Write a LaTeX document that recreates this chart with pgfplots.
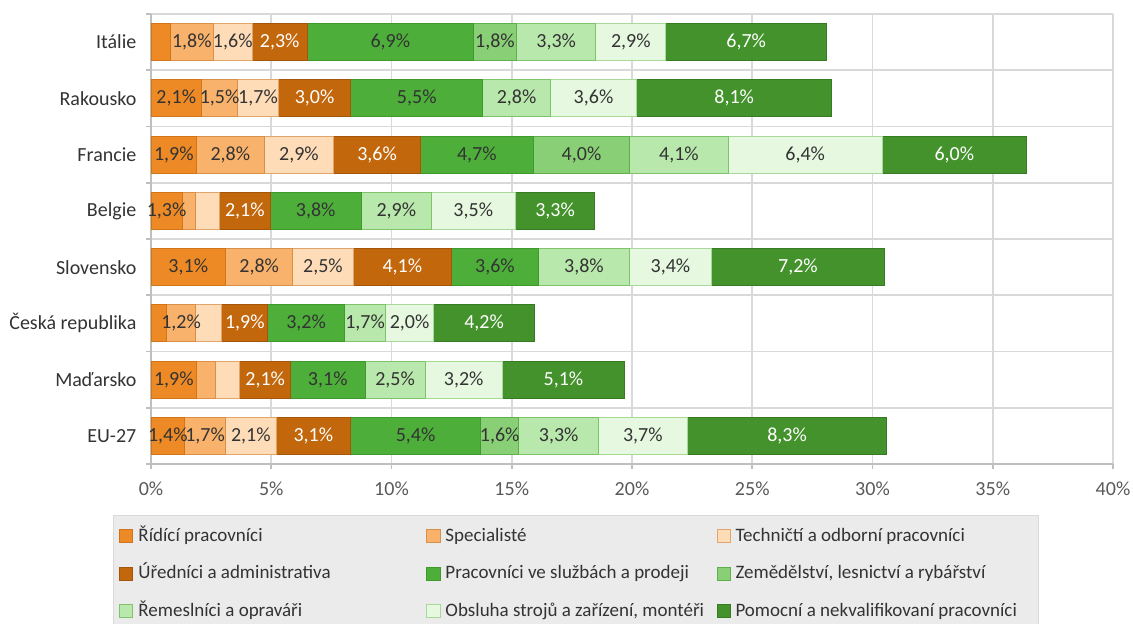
\documentclass[border=0pt]{standalone}
\usepackage{pgfplots}
\pgfplotsset{compat=1.18}
\usepackage{pgfplotstable}
\usepackage{fontspec}
\setmainfont{Carlito}

\definecolor{c1}{HTML}{EE8A26}\definecolor{b1}{HTML}{D07518}
\definecolor{c2}{HTML}{F9B26B}\definecolor{b2}{HTML}{D98F4A}
\definecolor{c3}{HTML}{FEDCB8}\definecolor{b3}{HTML}{E0A56C}
\definecolor{c4}{HTML}{C2670C}\definecolor{b4}{HTML}{A35508}
\definecolor{c5}{HTML}{4DAF3A}\definecolor{b5}{HTML}{3F9A2D}
\definecolor{c6}{HTML}{88CF76}\definecolor{b6}{HTML}{5FB04D}
\definecolor{c7}{HTML}{B9E8AC}\definecolor{b7}{HTML}{7FC46C}
\definecolor{c8}{HTML}{E6F8E0}\definecolor{b8}{HTML}{A8D89A}
\definecolor{c9}{HTML}{43922C}\definecolor{b9}{HTML}{367A22}
\definecolor{gridc}{HTML}{D9D9D9}
\definecolor{axisc}{HTML}{BFBFBF}
\definecolor{txt}{HTML}{333333}
\definecolor{ticktxt}{HTML}{595959}
\definecolor{legfill}{HTML}{EBEBEB}

% podíly (%) podle skupin povolání; idx 7 = Itálie nahoře
\pgfplotstableread{
idx s1   s2   s3   s4  s5  s6  s7  s8  s9
7   0.8  1.8  1.6  2.3 6.9 1.8 3.3 2.9 6.7
6   2.1  1.5  1.7  3.0 5.5 0   2.8 3.6 8.1
5   1.9  2.8  2.9  3.6 4.7 4.0 4.1 6.4 6.0
4   1.3  0.55 1.0  2.1 3.8 0   2.9 3.5 3.3
3   3.1  2.8  2.5  4.1 3.6 0   3.8 3.4 7.2
2   0.65 1.2  1.1  1.9 3.2 0   1.7 2.0 4.2
1   1.9  0.8  1.0  2.1 3.1 0   2.5 3.2 5.1
0   1.4  1.7  2.1  3.1 5.4 1.6 3.3 3.7 8.3
}\data

\pgfplotsset{
  seg/.style n args={4}{
    fill=#2, draw=#3, line width=0.5pt,
    visualization depends on={\thisrow{#1} \as \rawx},
    every node near coord/.append style={text=#4},
    legend image code/.code={\draw[##1, line width=0.5pt] (0pt,-3.25pt) rectangle (6.5pt,3.25pt);},
  },
}

\begin{document}
\begin{tikzpicture}[font=\fontsize{10}{12}\selectfont]
\useasboundingbox (0,0) rectangle (566.5pt,311.5pt);
\begin{axis}[
  at={(75.5pt,79.5pt)}, anchor=south west,
  width=481pt, height=225pt, scale only axis,
  xbar stacked, bar width=0.66,
  xmin=0, xmax=40, ymin=-0.5, ymax=7.5,
  xtick={0,5,...,40},
  xticklabel={\pgfmathprintnumber{\tick}\%},
  /pgf/number format/assume math mode=true,
  xticklabel style={text=ticktxt, yshift=-3pt},
  ytick={-0.5,0.5,...,7.5}, yticklabels={},
  extra y ticks={0,...,7},
  extra y tick labels={EU-27,Maďarsko,Česká republika,Slovensko,Belgie,Francie,Rakousko,Itálie},
  extra y tick style={grid=none, major tick length=0pt,
    yticklabel style={text=txt, xshift=-3.8pt}},
  grid=major, grid style={color=gridc, line width=0.8pt},
  axis lines*=left, axis line style={color=axisc, line width=0.8pt},
  tick align=outside, major tick length=2.5pt,
  tick style={color=axisc, line width=0.8pt},
  nodes near coords={\ifdim\rawx pt<1.15pt\relax\else\pgfmathprintnumber[fixed,fixed zerofill,precision=1,use comma]{\rawx}\%\fi},
  every node near coord/.append style={anchor=center},
  legend columns=3, legend cell align=left,
  legend style={at={(axis description cs:-0.0395,-0.1133)}, anchor=north west,
    draw=gridc, fill=legfill, line width=0.5pt, text=txt,
    font=\fontsize{9.5}{11}\selectfont,
    inner xsep=3pt, inner ysep=6pt, row sep=9.75pt,
    nodes={inner xsep=2.5pt, inner ysep=0pt, text height=7pt, text depth=2pt}},
]
\addplot[seg={s1}{c1}{b1}{txt}] table[x=s1, y=idx] {\data};
\addlegendentry{\makebox[141.5pt][l]{Řídící pracovníci}}
\addplot[seg={s2}{c2}{b2}{txt}] table[x=s2, y=idx] {\data};
\addlegendentry{\makebox[133pt][l]{Specialisté}}
\addplot[seg={s3}{c3}{b3}{txt}] table[x=s3, y=idx] {\data};
\addlegendentry{\makebox[146pt][l]{Techničtí a odborní pracovníci}}
\addplot[seg={s4}{c4}{b4}{white}] table[x=s4, y=idx] {\data};
\addlegendentry{\makebox[141.5pt][l]{Úředníci a administrativa}}
\addplot[seg={s5}{c5}{b5}{txt}] table[x=s5, y=idx] {\data};
\addlegendentry{\makebox[133pt][l]{Pracovníci ve službách a prodeji}}
\addplot[seg={s6}{c6}{b6}{txt}] table[x=s6, y=idx] {\data};
\addlegendentry{\makebox[146pt][l]{Zemědělství, lesnictví a rybářství}}
\addplot[seg={s7}{c7}{b7}{txt}] table[x=s7, y=idx] {\data};
\addlegendentry{\makebox[141.5pt][l]{Řemeslníci a opraváři}}
\addplot[seg={s8}{c8}{b8}{txt}] table[x=s8, y=idx] {\data};
\addlegendentry{\makebox[133pt][l]{Obsluha strojů a zařízení, montéři}}
\addplot[seg={s9}{c9}{b9}{white}] table[x=s9, y=idx] {\data};
\addlegendentry{\makebox[146pt][l]{Pomocní a nekvalifikovaní pracovníci}}
\end{axis}
\end{tikzpicture}
\end{document}
